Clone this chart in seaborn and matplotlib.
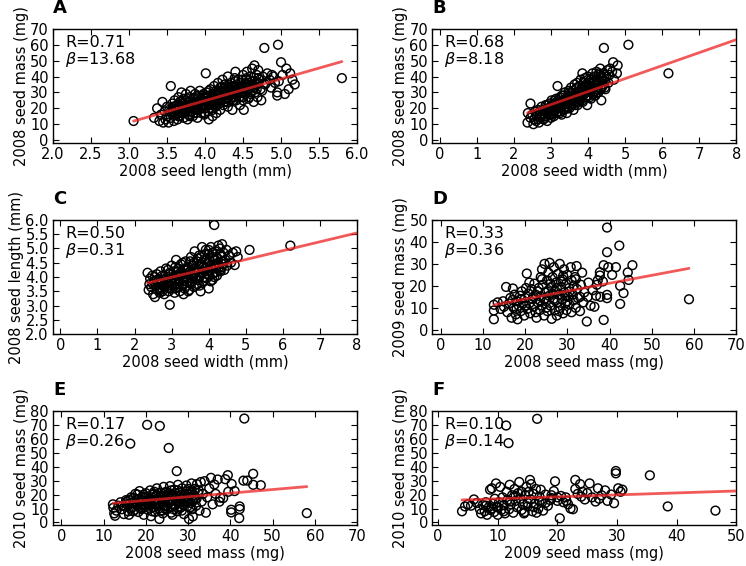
import numpy as np
import pandas as pd
import matplotlib
matplotlib.use('Agg')
import matplotlib.pyplot as plt
import seaborn as sns

# panel A: 2008 seed length (mm) vs 2008 seed mass (mg)
a_len = [3.33, 3.37, 3.40, 3.42, 3.44, 3.45, 3.47, 3.48, 3.50, 3.50, 3.52, 3.53, 3.55, 3.55, 3.57, 3.58, 3.59, 3.60, 3.60,
         3.62, 3.63, 3.64, 3.65, 3.66, 3.67, 3.68, 3.69, 3.70, 3.70, 3.72, 3.72, 3.73, 3.74, 3.75, 3.76, 3.77, 3.78, 3.79, 3.80, 3.80, 3.81,
         3.82, 3.83, 3.84, 3.85, 3.86, 3.87, 3.88, 3.89, 3.90, 3.90, 3.91, 3.92, 3.93, 3.94, 3.95, 3.96, 3.97, 3.98, 3.99, 4.00, 4.00, 4.01, 4.02,
         4.03, 4.04, 4.05, 4.05, 4.06, 4.07, 4.08, 4.09, 4.10, 4.10, 4.11, 4.12, 4.13, 4.14, 4.15, 4.15, 4.16, 4.17, 4.18, 4.19, 4.20, 4.20,
         4.21, 4.22, 4.23, 4.24, 4.25, 4.26, 4.27, 4.28, 4.29, 4.30, 4.30, 4.31, 4.32, 4.33, 4.34, 4.35, 4.36, 4.37, 4.38, 4.39, 4.40, 4.40,
         4.41, 4.42, 4.43, 4.44, 4.45, 4.46, 4.47, 4.48, 4.49, 4.50, 4.50, 4.51, 4.52, 4.53, 4.54, 4.55, 4.56, 4.57, 4.58, 4.59, 4.60, 4.60,
         4.62, 4.63, 4.64, 4.65, 4.65, 4.66, 4.68, 4.69, 4.70, 4.70, 4.72, 4.73, 4.74, 4.75, 4.76, 4.78, 4.79, 4.80,
         4.82, 4.85, 4.87, 4.88, 4.90, 4.92, 4.95, 4.95, 4.96, 4.97, 5.00, 5.02, 5.05, 5.07, 5.10, 5.12, 5.15, 5.18, 5.80, 3.06]
a_mass = [14, 20, 12, 16, 24, 11, 18, 13, 21, 15, 11, 19, 34, 14, 23, 17, 12, 25, 20,
          16, 22, 13, 27, 19, 15, 24, 30, 18, 21, 14, 26, 17, 22, 29, 19, 13, 24, 16, 21, 27, 31,
          18, 23, 15, 26, 20, 29, 17, 24, 14, 22, 27, 19, 31, 25, 17, 21, 28, 23, 16, 26, 20, 42, 30,
          24, 18, 28, 13, 22, 32, 26, 20, 29, 15, 24, 34, 27, 21, 31, 17, 25, 36, 28, 23, 30, 19,
          33, 26, 38, 22, 29, 35, 24, 31, 27, 40, 21, 33, 28, 25, 36, 30, 19, 34, 27, 39, 31, 43,
          25, 35, 29, 38, 33, 22, 30, 36, 27, 41, 32, 19, 35, 29, 38, 43, 31, 26, 36, 33, 40, 29,
          45, 34, 24, 47, 37, 30, 41, 27, 36, 44, 38, 32, 25, 31, 40, 58, 35, 36,
          42, 38, 33, 41, 40, 36, 28, 30, 60, 37, 49, 41, 29, 45, 32, 42, 38, 35, 39, 12]
# dense core of panel A
a_len_core = [3.55, 3.60, 3.62, 3.65, 3.68, 3.70, 3.72, 3.75, 3.78, 3.80, 3.82, 3.85, 3.88, 3.90, 3.92, 3.95, 3.97, 4.00, 4.02, 4.05,
              4.07, 4.10, 4.12, 4.15, 4.17, 4.20, 4.22, 4.25, 4.27, 4.30, 4.32, 4.35, 4.37, 4.40, 4.42, 4.45, 4.47, 4.50, 4.52, 4.55,
              4.57, 4.60, 4.62, 4.65, 4.68, 4.70, 3.75, 3.85, 3.95, 4.05, 4.15, 4.25, 4.35, 4.45, 4.55, 3.65, 3.70, 3.80, 3.90, 4.00,
              4.10, 4.20, 4.30, 4.40, 4.50, 4.60, 3.58, 3.67, 3.87, 3.98, 4.08, 4.18, 4.28, 4.38, 4.48, 4.58, 4.68]
a_mass_core = [18, 16, 19, 21, 17, 23, 19, 21, 18, 24, 20, 22, 25, 19, 23, 26, 21, 24, 27, 22,
               25, 28, 23, 26, 29, 25, 28, 31, 26, 29, 32, 27, 30, 33, 28, 31, 34, 30, 33, 35,
               32, 34, 37, 33, 35, 39, 25, 17, 20, 31, 22, 24, 34, 27, 39, 15, 20, 15, 28, 17,
               19, 33, 24, 37, 25, 30, 21, 24, 19, 29, 23, 31, 34, 25, 38, 27, 32]

# panel B: 2008 seed width (mm) vs 2008 seed mass (mg)
b_wid = [2.38, 2.37, 2.45, 2.45, 2.50, 2.53, 2.55, 2.58, 2.60, 2.62, 2.65, 2.68, 2.70, 2.72, 2.75, 2.78, 2.80, 2.82, 2.85, 2.86,
         2.88, 2.90, 2.92, 2.95, 2.96, 2.98, 3.00, 3.00, 3.02, 3.04, 3.06, 3.08, 3.10, 3.12, 3.14, 3.15, 3.18, 3.18, 3.20, 3.22,
         3.24, 3.25, 3.27, 3.29, 3.30, 3.32, 3.34, 3.35, 3.37, 3.38, 3.40, 3.42, 3.43, 3.45, 3.46, 3.48, 3.50, 3.50, 3.52, 3.54,
         3.55, 3.57, 3.58, 3.60, 3.61, 3.62, 3.64, 3.65, 3.67, 3.68, 3.70, 3.71, 3.72, 3.74, 3.75, 3.77, 3.78, 3.80, 3.80, 3.82,
         3.84, 3.85, 3.86, 3.88, 3.89, 3.90, 3.92, 3.93, 3.95, 3.96, 3.98, 4.00, 4.00, 4.02, 4.04, 4.05, 4.07, 4.08, 4.10, 4.12,
         4.13, 4.15, 4.16, 4.18, 4.20, 4.22, 4.23, 4.25, 4.27, 4.28, 4.30, 4.32, 4.33, 4.35, 4.36, 4.38, 4.40, 4.42, 4.43, 4.45,
         4.47, 4.50, 4.52, 4.55, 4.58, 4.60, 4.65, 4.68, 4.70, 4.78, 4.80, 5.09, 6.17]
b_mass = [17, 11, 23, 14, 16, 10, 13, 18, 12, 15, 19, 11, 16, 14, 21, 17, 13, 19, 15, 22,
          18, 12, 20, 16, 23, 18, 14, 21, 25, 17, 20, 15, 23, 19, 26, 17, 34, 22, 20, 24,
          18, 27, 21, 16, 25, 22, 28, 19, 24, 30, 21, 26, 17, 28, 23, 31, 25, 20, 27, 33,
          22, 29, 25, 31, 19, 27, 35, 24, 29, 32, 26, 36, 22, 30, 28, 34, 25, 31, 38, 27,
          33, 42, 24, 36, 29, 32, 39, 27, 35, 30, 22, 33, 40, 28, 36, 31, 38, 26, 34, 42,
          30, 37, 33, 40, 28, 35, 43, 32, 38, 30, 41, 36, 45, 33, 25, 39, 35, 42, 58, 37,
          32, 40, 44, 36, 41, 45, 43, 49, 38, 42, 47, 60, 42]
b_wid_core = [2.60, 2.70, 2.75, 2.80, 2.90, 2.95, 3.00, 3.05, 3.10, 3.15, 3.20, 3.25, 3.30, 3.35, 3.40, 3.45, 3.50, 3.55, 3.60, 3.65,
              3.70, 3.75, 3.80, 3.85, 3.90, 3.95, 4.00, 4.05, 4.10, 4.15, 4.20, 4.25, 4.30, 4.35, 4.40, 4.45, 2.65, 2.85, 3.05, 3.25,
              3.45, 3.65, 3.85, 4.05, 4.25, 4.45, 2.90, 3.10, 3.30, 3.50, 3.70, 3.90, 4.10, 4.30, 3.00, 3.20, 3.40, 3.60, 3.80, 4.00,
              4.20, 4.40, 3.15, 3.35, 3.55, 3.75, 3.95, 4.15, 4.35]
b_mass_core = [16, 18, 15, 19, 17, 20, 18, 22, 19, 21, 23, 20, 22, 25, 23, 26, 24, 27, 25, 28,
               26, 30, 28, 31, 29, 33, 31, 34, 32, 36, 34, 38, 35, 39, 37, 41, 13, 14, 16, 17,
               20, 22, 25, 27, 30, 33, 22, 25, 28, 30, 33, 36, 39, 42, 16, 18, 21, 23, 26, 28,
               31, 34, 24, 19, 22, 24, 27, 29, 32]

# panel C: 2008 seed width (mm) vs 2008 seed length (mm)
c_wid = [2.35, 2.38, 2.40, 2.42, 2.45, 2.48, 2.50, 2.52, 2.55, 2.58, 2.60, 2.62, 2.65, 2.68, 2.70, 2.72, 2.75, 2.78, 2.80, 2.82,
         2.85, 2.88, 2.90, 2.92, 2.95, 2.95, 2.98, 3.00, 3.02, 3.04, 3.06, 3.08, 3.10, 3.12, 3.14, 3.15, 3.18, 3.20, 3.22, 3.24,
         3.25, 3.28, 3.30, 3.32, 3.34, 3.35, 3.38, 3.40, 3.42, 3.44, 3.45, 3.48, 3.50, 3.52, 3.54, 3.55, 3.58, 3.60, 3.62, 3.64,
         3.65, 3.68, 3.70, 3.72, 3.74, 3.75, 3.78, 3.80, 3.82, 3.84, 3.85, 3.88, 3.90, 3.92, 3.94, 3.95, 3.98, 4.00, 4.00, 4.02,
         4.04, 4.06, 4.08, 4.10, 4.12, 4.14, 4.15, 4.16, 4.18, 4.20, 4.22, 4.24, 4.26, 4.28, 4.30, 4.32, 4.34, 4.36, 4.38, 4.40,
         4.42, 4.45, 4.48, 4.50, 4.55, 4.60, 4.65, 4.70, 4.74, 4.78, 5.10, 6.20]
c_len = [4.15, 3.55, 3.75, 3.95, 3.65, 4.05, 3.40, 3.85, 3.30, 3.70, 4.10, 3.55, 3.90, 3.45, 4.20, 3.75, 3.60, 4.00, 3.40, 3.85,
         4.30, 3.70, 3.95, 3.50, 3.03, 4.10, 3.80, 4.40, 3.60, 3.95, 4.20, 3.45, 3.85, 4.60, 4.05, 3.65, 4.30, 3.90, 3.50, 4.15,
         4.45, 3.75, 4.00, 3.40, 4.25, 3.85, 4.55, 4.10, 3.70, 3.95, 4.35, 3.55, 4.20, 4.70, 3.85, 4.05, 4.40, 3.65, 4.90, 4.15,
         3.95, 4.55, 3.75, 4.25, 4.75, 4.00, 3.50, 4.45, 5.05, 4.15, 3.85, 4.60, 4.30, 4.95, 3.95, 4.45, 4.20, 3.60, 4.80, 4.05,
         4.55, 5.05, 4.30, 3.90, 4.70, 4.45, 5.82, 4.15, 4.90, 4.40, 4.05, 4.65, 5.10, 4.35, 4.80, 4.20, 4.55, 5.15, 4.45, 4.85,
         4.25, 4.60, 4.95, 4.40, 4.75, 4.50, 4.85, 4.42, 4.90, 4.70, 4.95, 5.10]
c_wid_core = [2.50, 2.60, 2.65, 2.70, 2.75, 2.80, 2.85, 2.90, 2.95, 3.00, 3.05, 3.10, 3.15, 3.20, 3.25, 3.30, 3.35, 3.40, 3.45, 3.50,
              3.55, 3.60, 3.65, 3.70, 3.75, 3.80, 3.85, 3.90, 3.95, 4.00, 4.05, 4.10, 4.15, 4.20, 4.25, 4.30, 4.35, 4.40, 2.55, 2.75,
              2.95, 3.15, 3.35, 3.55, 3.75, 3.95, 4.15, 4.35, 2.70, 2.90, 3.10, 3.30, 3.50, 3.70, 3.90, 4.10, 4.30, 3.00, 3.20, 3.40,
              3.60, 3.80, 4.00, 3.45, 3.65, 3.85, 4.05]
c_len_core = [3.75, 3.90, 3.60, 3.85, 4.05, 3.65, 3.95, 3.80, 4.15, 3.70, 4.00, 3.60, 4.20, 3.85, 4.05, 3.70, 4.30, 3.95, 4.15, 3.80,
              4.40, 4.05, 4.25, 3.90, 4.45, 4.15, 4.35, 4.00, 4.60, 4.25, 4.40, 4.10, 4.65, 4.30, 4.50, 4.25, 4.75, 4.55, 4.00, 3.50,
              3.60, 3.75, 3.60, 3.95, 3.70, 4.10, 4.00, 4.35, 3.55, 4.25, 4.35, 4.50, 4.55, 4.65, 4.80, 4.85, 5.00, 3.85, 4.10, 4.25,
              4.50, 4.70, 4.95, 3.50, 3.70, 3.85, 3.85]

# panel D: 2008 seed mass vs 2009 seed mass (mg)
d_08 = [12.6, 12.6, 12.6, 13.5, 14.2, 14.8, 15.0, 15.5, 15.8, 16.2, 16.5, 16.8, 17.1, 17.3, 17.5, 17.8, 18.0, 18.2, 18.5, 18.8,
        19.0, 19.2, 19.5, 19.8, 20.0, 20.2, 20.4, 20.5, 20.8, 21.0, 21.2, 21.5, 21.8, 22.0, 22.2, 22.5, 22.7, 23.0, 23.2, 23.5,
        23.7, 23.8, 24.0, 24.0, 24.2, 24.5, 24.6, 24.8, 25.0, 25.2, 25.3, 25.5, 25.7, 25.8, 26.0, 26.2, 26.3, 26.5, 26.7, 26.8,
        27.0, 27.2, 27.3, 27.5, 27.6, 27.8, 28.0, 28.2, 28.3, 28.5, 28.7, 28.8, 29.0, 29.2, 29.3, 29.5, 29.7, 29.8, 30.0, 30.2,
        30.4, 30.5, 30.8, 31.0, 31.0, 31.3, 31.5, 31.8, 32.0, 32.2, 32.3, 32.5, 33.0, 33.2, 33.5, 33.8, 34.0, 34.6, 34.8, 35.0,
        35.5, 36.0, 36.4, 36.8, 37.0, 37.2, 37.7, 37.7, 37.8, 38.4, 38.6, 38.6, 39.4, 39.4, 39.4, 39.4, 39.7, 40.6, 41.5, 42.3,
        42.5, 42.5, 43.3, 44.3, 44.5, 45.4, 58.8,
        22.0, 23.0, 24.5, 25.5, 26.5, 27.5, 28.5, 29.5, 30.5, 31.5, 21.0, 20.0, 19.0, 18.0, 17.0, 26.0, 27.0, 28.0, 24.0, 25.0,
        32.0, 33.0, 30.0, 29.0, 22.5, 23.5]
d_09 = [11.4, 8.8, 4.8, 12.5, 9.5, 13.0, 10.5, 19.5, 8.0, 12.0, 14.5, 5.5, 18.8, 10.0, 16.0, 7.0, 13.0, 4.8, 11.0, 15.5,
        8.5, 17.5, 12.0, 6.5, 14.5, 19.0, 25.6, 9.5, 16.5, 12.0, 7.5, 18.5, 14.0, 10.5, 21.0, 16.0, 5.5, 12.5, 19.0, 9.0,
        24.0, 15.0, 27.5, 11.0, 20.5, 6.5, 30.0, 17.0, 13.0, 22.5, 8.5, 26.0, 15.5, 30.5, 11.0, 19.5, 5.0, 24.0, 14.0, 28.5,
        9.0, 17.5, 21.5, 6.5, 12.5, 25.5, 16.0, 30.0, 10.0, 19.5, 14.0, 23.0, 7.5, 27.5, 17.0, 12.0, 21.0, 9.0, 25.0, 15.0,
        19.0, 11.5, 28.5, 22.5, 8.0, 16.0, 13.5, 24.0, 10.0, 29.0, 18.5, 14.5, 8.5, 20.5, 26.0, 12.5, 17.0, 3.8, 15.0, 21.5,
        11.0, 18.0, 10.5, 15.5, 20.5, 22.5, 24.7, 26.2, 15.0, 22.0, 29.4, 4.5, 35.3, 15.9, 14.4, 46.5, 28.5, 25.0, 28.5, 38.3,
        20.0, 11.8, 16.7, 26.1, 22.7, 29.4, 13.9,
        15.0, 17.5, 14.0, 18.0, 16.5, 19.0, 22.0, 15.5, 17.5, 20.0, 21.5, 11.0, 14.0, 9.5, 13.5, 21.0, 13.5, 8.5, 23.0, 10.0,
        23.0, 15.0, 13.0, 24.5, 8.0, 13.5]

# panel E: 2008 seed mass vs 2010 seed mass (mg)
e_08 = [12.2, 12.3, 12.5, 12.7, 13.0, 13.5, 14.0, 14.3, 14.8, 15.0, 15.3, 15.5, 15.8, 16.0, 16.3, 16.5, 16.8, 17.0, 17.3, 17.5,
        17.8, 18.0, 18.2, 18.5, 18.8, 19.0, 19.2, 19.5, 19.8, 20.0, 20.2, 20.3, 20.5, 20.8, 21.0, 21.2, 21.4, 21.6, 21.8, 22.0,
        22.2, 22.4, 22.6, 22.8, 23.0, 23.2, 23.3, 23.5, 23.7, 23.9, 24.0, 24.2, 24.4, 24.6, 24.8, 25.0, 25.2, 25.4, 25.5, 25.7,
        25.9, 26.1, 26.3, 26.5, 26.7, 26.9, 27.1, 27.3, 27.4, 27.6, 27.8, 28.0, 28.2, 28.4, 28.6, 28.8, 29.0, 29.2, 29.4, 29.6,
        29.8, 30.0, 30.2, 30.4, 30.6, 30.8, 31.0, 31.1, 31.3, 31.5, 31.7, 31.9, 32.1, 32.4, 32.7, 33.0, 33.2, 33.5, 33.9, 34.2,
        34.5, 35.0, 35.4, 35.8, 36.2, 36.5, 37.0, 37.4, 37.6, 38.3, 38.8, 39.4, 39.5, 40.2, 40.2, 40.3, 41.0, 42.1, 42.2, 42.2,
        43.1, 43.3, 44.0, 45.4, 45.4, 47.2, 58.1,
        16.0, 17.0, 18.0, 19.0, 20.0, 21.0, 22.0, 23.0, 24.0, 25.0, 26.0, 27.0, 28.0, 29.0, 30.0, 31.0, 32.0, 26.5, 24.5, 22.5,
        20.5, 18.5, 28.5, 30.5, 25.5, 27.5, 23.5, 21.5, 19.5, 29.5,
        14.5, 15.5, 16.5, 17.5, 18.5, 19.5, 20.5, 21.5, 22.5, 23.5, 24.5, 25.5, 26.5, 27.5, 28.5, 29.5, 30.5, 31.5, 32.5, 17.0,
        19.0, 21.0, 23.0, 25.0, 27.0, 29.0, 31.0, 20.0, 22.0, 24.0, 26.0, 28.0, 30.0, 18.0, 16.0, 24.0, 26.0, 28.0, 22.0]
e_10 = [13.0, 10.5, 6.5, 4.8, 8.5, 12.0, 14.5, 9.5, 6.0, 11.5, 16.0, 13.0, 8.0, 5.5, 56.5, 18.0, 11.0, 14.5, 9.0, 20.5,
        12.5, 16.5, 7.5, 22.5, 10.0, 14.0, 18.5, 5.5, 12.0, 21.0, 16.0, 70.0, 9.0, 13.5, 23.0, 4.5, 18.0, 11.0, 15.5, 20.5,
        7.5, 13.0, 24.5, 17.0, 10.0, 2.5, 69.2, 21.5, 14.5, 19.0, 6.5, 25.5, 12.0, 16.5, 22.0, 9.5, 18.5, 53.4, 14.0, 26.0,
        11.0, 20.5, 5.5, 16.0, 23.5, 12.5, 19.0, 36.8, 8.0, 27.0, 15.0, 21.5, 10.5, 17.5, 24.5, 13.0, 6.0, 20.0, 15.5, 26.5,
        11.5, 18.5, 2.5, 22.5, 14.0, 28.0, 9.5, 4.3, 19.5, 24.0, 16.5, 12.0, 27.5, 21.0, 8.5, 29.0, 15.0, 20.5, 29.6, 7.0,
        18.0, 24.5, 32.0, 13.0, 27.2, 20.5, 30.8, 14.9, 17.8, 17.5, 31.0, 33.9, 22.0, 9.1, 7.2, 27.6, 22.5, 3.1, 11.5, 9.6,
        30.0, 74.5, 30.0, 34.9, 27.0, 26.7, 6.7,
        13.0, 17.5, 11.5, 9.5, 15.0, 12.5, 16.5, 13.5, 18.0, 15.5, 13.0, 17.0, 14.5, 18.0, 15.0, 21.0, 17.0, 9.5, 10.0, 19.5,
        18.0, 14.5, 8.5, 11.0, 21.0, 23.0, 8.5, 8.0, 20.0, 22.0,
        12.0, 15.0, 10.0, 14.0, 17.0, 13.0, 16.0, 20.0, 14.0, 18.0, 21.0, 17.0, 19.0, 15.0, 20.0, 17.0, 20.0, 18.0, 23.0, 8.0,
        11.0, 15.0, 16.0, 19.0, 21.0, 13.0, 15.0, 18.0, 22.0, 15.0, 23.0, 17.0, 24.0, 20.0, 16.0, 8.5, 7.0, 11.5, 11.0]

# panel F: 2009 seed mass vs 2010 seed mass (mg)
f_09 = [4.0, 4.5, 5.0, 5.5, 6.0, 6.5, 7.0, 7.2, 7.5, 7.8, 8.0, 8.2, 8.5, 8.7, 8.8, 9.0, 9.2, 9.4, 9.5, 9.7,
        9.8, 10.0, 10.2, 10.4, 10.6, 10.8, 11.0, 11.2, 11.4, 11.5, 11.6, 11.8, 11.9, 12.0, 12.2, 12.4, 12.6, 12.8, 13.0, 13.2,
        13.4, 13.6, 13.8, 14.0, 14.2, 14.4, 14.6, 14.8, 15.0, 15.2, 15.4, 15.5, 15.6, 15.8, 16.0, 16.2, 16.4, 16.6, 16.8, 17.0,
        17.2, 17.4, 17.6, 18.0, 18.4, 18.8, 19.0, 19.4, 19.6, 20.0, 20.4, 20.6, 21.0, 21.4, 21.8, 22.2, 22.6, 23.0, 23.0, 23.4,
        23.8, 24.2, 24.6, 25.0, 25.4, 25.8, 26.4, 26.8, 27.4, 28.0, 28.4, 29.0, 29.5, 29.8, 29.8, 30.2, 30.6, 30.9, 35.5, 38.5,
        46.5,
        12.0, 13.0, 14.0, 15.0, 16.0, 17.0, 18.0, 19.0, 20.0, 10.0, 11.0, 9.0, 14.5, 16.5, 21.5, 24.0, 27.0, 8.0]
f_10 = [8.0, 11.5, 13.0, 12.0, 16.5, 14.0, 9.5, 6.5, 12.5, 8.0, 14.5, 5.5, 11.0, 23.5, 9.0, 24.5, 13.5, 7.5, 17.0, 28.0,
        11.0, 5.5, 14.5, 25.5, 9.0, 18.0, 12.5, 6.5, 69.5, 22.0, 16.0, 56.9, 9.5, 27.0, 13.0, 19.5, 7.0, 24.0, 15.5, 11.0,
        21.0, 29.0, 17.0, 9.0, 13.0, 6.5, 19.5, 25.5, 11.5, 22.0, 30.5, 16.5, 27.5, 8.0, 20.5, 13.5, 24.0, 74.3, 10.0, 18.5,
        23.5, 14.5, 8.5, 20.0, 12.0, 16.0, 19.5, 22.5, 29.5, 15.5, 3.0, 19.0, 14.5, 18.0, 13.0, 10.0, 9.5, 30.5, 24.0, 20.5,
        27.5, 22.0, 16.5, 21.0, 28.0, 18.0, 15.0, 24.5, 19.5, 23.0, 15.5, 20.0, 13.8, 35.2, 36.9, 24.5, 22.0, 23.5, 33.8, 11.5,
        8.5,
        15.0, 19.0, 22.0, 14.0, 11.0, 15.5, 14.0, 17.5, 18.0, 11.0, 8.0, 10.0, 7.5, 7.0, 15.5, 18.5, 17.0, 12.0]

letters = ['A', 'B', 'C', 'D', 'E', 'F']
r_vals = ['0.71', '0.68', '0.50', '0.33', '0.17', '0.10']
betas = [13.68, 8.18, 0.31, 0.36, 0.26, 0.14]
xlabels = ['2008 seed length (mm)', '2008 seed width (mm)', '2008 seed width (mm)',
           '2008 seed mass (mg)', '2008 seed mass (mg)', '2009 seed mass (mg)']
ylabels = ['2008 seed mass (mg)', '2008 seed mass (mg)', '2008 seed length (mm)',
           '2009 seed mass (mg)', '2010 seed mass (mg)', '2010 seed mass (mg)']
xs = [a_len + a_len_core, b_wid + b_wid_core, c_wid + c_wid_core, d_08, e_08, f_09]
ys = [a_mass + a_mass_core, b_mass + b_mass_core, c_len + c_len_core, d_09, e_10, f_10]

sns.set_style('ticks')
plt.rcParams['font.family'] = ['DejaVu Sans']
plt.rcParams['mathtext.fontset'] = 'dejavusans'
for k in ['text.color', 'axes.labelcolor', 'xtick.color', 'ytick.color', 'axes.edgecolor']:
    plt.rcParams[k] = 'black'

lims = [((2, 6), (-2, 70)), ((-0.2, 8), (-2, 70)), ((-0.2, 8), (2, 6)),
        ((-2, 70), (-2, 50)), ((-2, 70), (-2, 80)), ((-1, 50), (-2, 80))]
xticks = [np.arange(2, 6.01, 0.5), range(0, 9), range(0, 9), range(0, 71, 10), range(0, 71, 10), range(0, 51, 10)]
yticks = [range(0, 71, 10), range(0, 71, 10), np.arange(2, 6.01, 0.5), range(0, 51, 10), range(0, 81, 10), range(0, 81, 10)]
line_to_edge = [False, True, True, False, False, True]

fig, axes = plt.subplots(3, 2, figsize=(7.46, 5.66), dpi=100)
fig.subplots_adjust(left=0.071, right=0.987, bottom=0.072, top=0.949, wspace=0.247, hspace=0.67)

for i, ax in enumerate(axes.flat):
    df = pd.DataFrame({'x': xs[i], 'y': ys[i]})
    sns.scatterplot(data=df, x='x', y='y', ax=ax, marker='o', s=40,
                    facecolor='none', edgecolor='black', linewidth=1.05, zorder=2)
    # regression line through the mean with the reported slope
    x0 = df.x.min()
    x1 = lims[i][0][1] if line_to_edge[i] else df.x.max()
    b0 = df.y.mean() - betas[i] * df.x.mean()
    lx = np.array([x0, x1])
    sns.lineplot(x=lx, y=b0 + betas[i] * lx, ax=ax, color='#ee2222', alpha=0.75, linewidth=2, zorder=3)
    ax.set_xlim(*lims[i][0])
    ax.set_ylim(*lims[i][1])
    ax.set_xticks(xticks[i])
    ax.set_yticks(yticks[i])
    if i == 0:
        ax.set_xticklabels(['%.1f' % t for t in xticks[i]])
    if i == 2:
        ax.set_yticklabels(['%.1f' % t for t in yticks[i]])
    ax.tick_params(direction='in', top=True, right=True, length=4, width=0.8, labelsize=10.5, pad=3)
    for sp in ax.spines.values():
        sp.set_linewidth(1.0)
    ax.set_xlabel(xlabels[i], fontsize=10.5, labelpad=1)
    ax.set_ylabel(ylabels[i], fontsize=10.5, labelpad=1)
    ax.text(0.04, 0.95, 'R=' + r_vals[i] + '\n' + r'$\beta$=' + '%.2f' % betas[i],
            transform=ax.transAxes, ha='left', va='top', fontsize=11.5, linespacing=1.0)
    ax.text(0.0, 1.1, letters[i], transform=ax.transAxes, ha='left', va='bottom',
            fontsize=13, fontweight='bold')

plt.savefig('out.png', dpi=100)
